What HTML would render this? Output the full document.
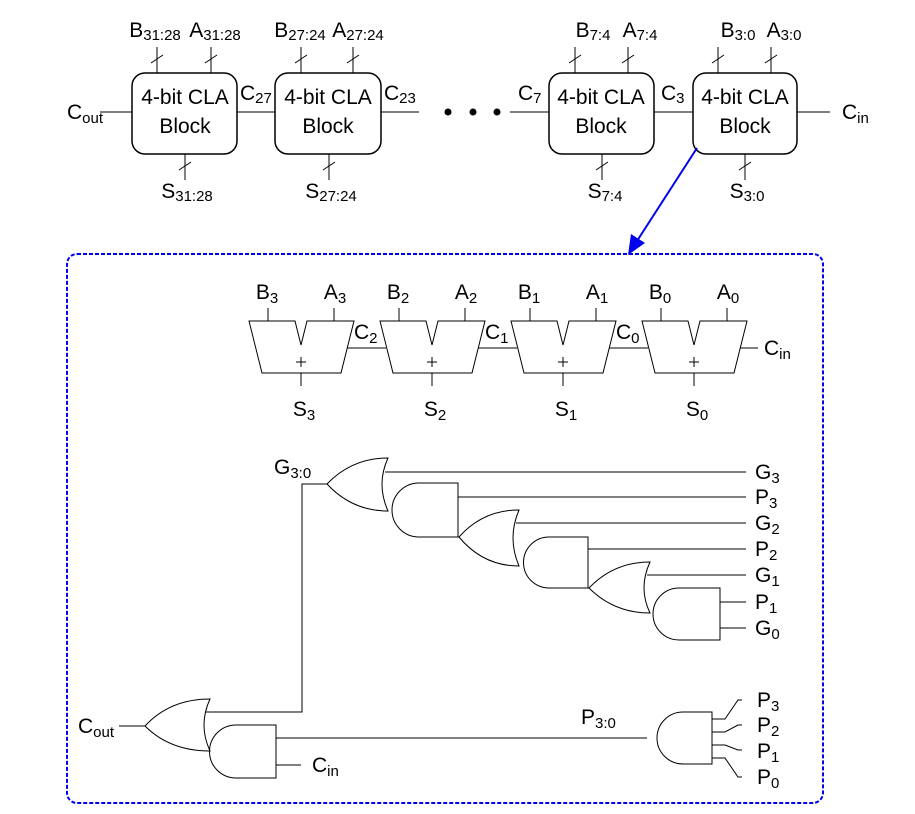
<!DOCTYPE html>
<html><head><meta charset="utf-8"><style>
html,body{margin:0;padding:0;background:#fff;}
svg{display:block;font-family:"Liberation Sans",Arial,sans-serif;}
text{font-size:21px;fill:#000;}
.s{font-size:15px;}
</style></head><body>
<svg width="915" height="814" viewBox="0 0 915 814" xmlns="http://www.w3.org/2000/svg">
<defs>
<g id="ad" stroke="#000" stroke-width="1" fill="none"><polygon points="0,321 46,321 52,345 58,321 105,321 92,373 13,373"/><path d="M19 308V321M85 308V321M52 373V386"/><path d="M47 362H57M52 357V367"/></g>
</defs>
<g stroke="#000" stroke-width="1" fill="none">
<rect x="132" y="73" width="105" height="81" rx="13" stroke-width="1.5"/>
<rect x="275" y="73" width="106" height="81" rx="13" stroke-width="1.5"/>
<rect x="549" y="73" width="105" height="81" rx="13" stroke-width="1.5"/>
<rect x="693" y="73" width="104" height="81" rx="13" stroke-width="1.5"/>
<line x1="100" y1="112" x2="132" y2="112"/>
<line x1="237" y1="112" x2="275" y2="112"/>
<line x1="381" y1="112" x2="419" y2="112"/>
<line x1="510" y1="112" x2="549" y2="112"/>
<line x1="654" y1="112" x2="693" y2="112"/>
<line x1="797" y1="112" x2="830" y2="112"/>
<path d="M157 47V73M211 47V73M185 154V180M301 47V73M353 47V73M329 154V180M575 47V73M628 47V73M602 154V180M718 47V73M771 47V73M745 154V180"/>
<path d="M151 63L163 55M205 63L217 55M179 170L191 162M295 63L307 55M347 63L359 55M323 170L335 162M569 63L581 55M622 63L634 55M596 170L608 162M712 63L724 55M765 63L777 55M739 170L751 162"/>
</g>
<circle cx="448" cy="112" r="3.5"/><circle cx="473" cy="112" r="3.5"/><circle cx="497" cy="112" r="3.5"/>
<g text-anchor="middle">
<text x="185" y="104">4-bit CLA</text><text x="185" y="133">Block</text>
<text x="328" y="104">4-bit CLA</text><text x="328" y="133">Block</text>
<text x="601" y="104">4-bit CLA</text><text x="601" y="133">Block</text>
<text x="745" y="104">4-bit CLA</text><text x="745" y="133">Block</text>
<text x="155" y="37">B<tspan class="s" dy="3">31:28</tspan></text>
<text x="215" y="37">A<tspan class="s" dy="3">31:28</tspan></text>
<text x="300" y="37">B<tspan class="s" dy="3">27:24</tspan></text>
<text x="358" y="37">A<tspan class="s" dy="3">27:24</tspan></text>
<text x="593" y="37">B<tspan class="s" dy="3">7:4</tspan></text>
<text x="640" y="37">A<tspan class="s" dy="3">7:4</tspan></text>
<text x="738" y="37">B<tspan class="s" dy="3">3:0</tspan></text>
<text x="784" y="37">A<tspan class="s" dy="3">3:0</tspan></text>
<text x="187" y="198">S<tspan class="s" dy="3">31:28</tspan></text>
<text x="331" y="198">S<tspan class="s" dy="3">27:24</tspan></text>
<text x="605" y="198">S<tspan class="s" dy="3">7:4</tspan></text>
<text x="747" y="198">S<tspan class="s" dy="3">3:0</tspan></text>
</g>
<text x="67" y="119">C<tspan class="s" dy="4">out</tspan></text>
<text x="240" y="100">C<tspan class="s" dy="3">27</tspan></text>
<text x="384" y="100">C<tspan class="s" dy="3">23</tspan></text>
<text x="518" y="100">C<tspan class="s" dy="3">7</tspan></text>
<text x="661" y="100">C<tspan class="s" dy="3">3</tspan></text>
<text x="842" y="119">C<tspan class="s" dy="4">in</tspan></text>
<line x1="697" y1="148" x2="637" y2="241" stroke="#0000ee" stroke-width="2"/>
<polygon points="628,255 631,234 645,243" fill="#0000ee"/>
<rect x="67" y="254" width="756" height="549" rx="10" fill="none" stroke="#0000ee" stroke-width="2" stroke-dasharray="4,2"/>
<use href="#ad" x="249"/><use href="#ad" x="380"/><use href="#ad" x="511"/><use href="#ad" x="642"/>
<path d="M347 348H386M478 348H517M609 348H648M740 348H758" stroke="#000" fill="none"/>
<g text-anchor="middle">
<text x="267" y="299">B<tspan class="s" dy="4">3</tspan></text><text x="335" y="299">A<tspan class="s" dy="4">3</tspan></text>
<text x="398" y="299">B<tspan class="s" dy="4">2</tspan></text><text x="466" y="299">A<tspan class="s" dy="4">2</tspan></text>
<text x="529" y="299">B<tspan class="s" dy="4">1</tspan></text><text x="597" y="299">A<tspan class="s" dy="4">1</tspan></text>
<text x="660" y="299">B<tspan class="s" dy="4">0</tspan></text><text x="728" y="299">A<tspan class="s" dy="4">0</tspan></text>
<text x="304" y="416">S<tspan class="s" dy="4">3</tspan></text><text x="435" y="416">S<tspan class="s" dy="4">2</tspan></text>
<text x="566" y="416">S<tspan class="s" dy="4">1</tspan></text><text x="697" y="416">S<tspan class="s" dy="4">0</tspan></text>
</g>
<text x="354" y="339">C<tspan class="s" dy="4">2</tspan></text>
<text x="485" y="339">C<tspan class="s" dy="4">1</tspan></text>
<text x="616" y="339">C<tspan class="s" dy="4">0</tspan></text>
<text x="764" y="355">C<tspan class="s" dy="4">in</tspan></text>
<g stroke="#000" stroke-width="1" fill="none">
<path d="M388 458 Q352 458 327 484 Q352 511 388 511 Q376 484 388 458Z"/>
<path d="M458 483H419A27 27 0 0 0 419 537H458Z"/>
<path d="M519 510 Q483 510 459 537 Q483 566 519 566 Q507 538 519 510Z"/>
<path d="M588 537H549A25.5 25.5 0 0 0 549 588H588Z"/>
<path d="M650 562 Q614 562 589 588 Q614 613 650 613 Q638 588 650 562Z"/>
<path d="M720 588H679A26 26 0 0 0 679 640H720Z"/>
<path d="M385 472H746M458 497H746M516 523H746M588 549H746M647 575H746M720 602H746M720 628H746"/>
<path d="M327 484H302V712H206"/>
<path d="M210 699 Q170 699 145 726 Q170 751 210 751 Q198 725 210 699Z"/>
<path d="M276 725H236A26.5 26.5 0 0 0 236 778H276Z"/>
<path d="M119 726H145M276 738H647M276 765H301"/>
<path d="M712 712H683A26 26 0 0 0 683 764H712Z"/>
<path d="M712 719H725L738 700H742M712 732H725L738 725H742M712 745H725L738 750H742M712 758H725L738 777H742"/>
</g>
<text x="274" y="474">G<tspan class="s" dy="4">3:0</tspan></text>
<text x="755" y="479">G<tspan class="s" dy="4">3</tspan></text>
<text x="755" y="504">P<tspan class="s" dy="4">3</tspan></text>
<text x="755" y="530">G<tspan class="s" dy="4">2</tspan></text>
<text x="755" y="556">P<tspan class="s" dy="4">2</tspan></text>
<text x="755" y="582">G<tspan class="s" dy="4">1</tspan></text>
<text x="755" y="609">P<tspan class="s" dy="4">1</tspan></text>
<text x="755" y="635">G<tspan class="s" dy="4">0</tspan></text>
<text x="78" y="733">C<tspan class="s" dy="4">out</tspan></text>
<text x="312" y="772">C<tspan class="s" dy="4">in</tspan></text>
<text x="581" y="724">P<tspan class="s" dy="4">3:0</tspan></text>
<text x="757" y="707">P<tspan class="s" dy="4">3</tspan></text>
<text x="757" y="732">P<tspan class="s" dy="4">2</tspan></text>
<text x="757" y="758">P<tspan class="s" dy="4">1</tspan></text>
<text x="757" y="784">P<tspan class="s" dy="4">0</tspan></text>
</svg>
</body></html>
